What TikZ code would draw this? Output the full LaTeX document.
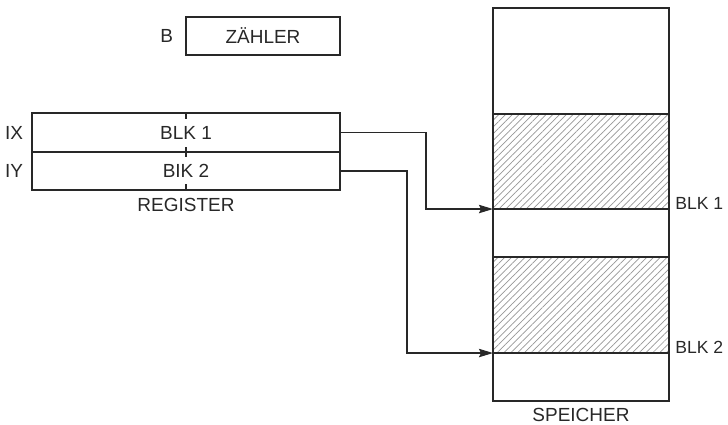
\documentclass[tikz,border=0pt]{standalone}
\usepackage{fontspec}
\setmainfont{Liberation Sans}
\usepackage{xcolor}
\usetikzlibrary{positioning,patterns.meta,arrows.meta}
\definecolor{inkgray}{RGB}{40,40,40}
\definecolor{hatchgray}{RGB}{150,150,150}

\begin{document}
\begin{tikzpicture}[x=0.025cm, y=-0.025cm,
  every node/.style={font=\fontsize{13.5}{15}\selectfont, text=inkgray},
  box/.style={rectangle, draw=inkgray, line width=0.9pt, inner sep=0pt, outer sep=0pt},
  memcell/.style={box, minimum width=4.4cm},
  hatched/.style={pattern={Lines[angle=45, distance=3.4pt, line width=0.5pt]}, pattern color=hatchgray},
  sidelabel/.style={anchor=base west, xshift=0.15cm, inner sep=0pt, font=\fontsize{12.5}{14}\selectfont},
  tick/.style={draw=inkgray, line width=0.9pt},
  arrow/.style={-{Stealth[length=10pt,width=6pt,inset=1.5pt]}, draw=inkgray, line width=0.8pt}
]
\useasboundingbox (0,0) rectangle (728,424);

\node[box, minimum width=3.85cm, minimum height=0.95cm] (zaehler) at (263,36) {Z\"AHLER};
\node[left=0.2cm of zaehler.west] (lblB) {B};

\node[box, minimum width=7.7cm, minimum height=0.975cm] (regA) at (186,132.5) {BLK 1};
\node[box, minimum width=7.7cm, minimum height=0.95cm] (regB) at (186,171) {BIK 2};
\node[left=0.1cm of regA.west] (lblIX) {IX};
\node[left=0.1cm of regB.west] (lblIY) {IY};
\node[below=0.08cm of regB.south] (lblReg) {REGISTER};
\draw[tick] (regA.north) -- ++(0,6);
\draw[tick] (regA.south) ++(0,-5) -- ++(0,10);
\draw[tick] (regB.south) -- ++(0,-6);

\node[memcell, minimum height=2.65cm] (mem0) at (581,61) {};
\node[memcell, hatched, minimum height=2.375cm] (mem1) at (581,161.5) {};
\node[memcell, minimum height=1.2cm] (mem2) at (581,233) {};
\node[memcell, hatched, minimum height=2.4cm] (mem3) at (581,305) {};
\node[memcell, minimum height=1.2cm] (mem4) at (581,377) {};
\node[below=0.06cm of mem4.south] (lblMem) {SPEICHER};
\node[sidelabel] (lblBlkA) at (mem1.south east) {BLK 1};
\node[sidelabel] (lblBlkB) at (mem3.south east) {BLK 2};

\draw[arrow] (regA.east) -- ++(86,0) |- (mem1.south west);
\draw[arrow] (regB.east) -- ++(67,0) |- (mem3.south west);
\end{tikzpicture}
\end{document}
